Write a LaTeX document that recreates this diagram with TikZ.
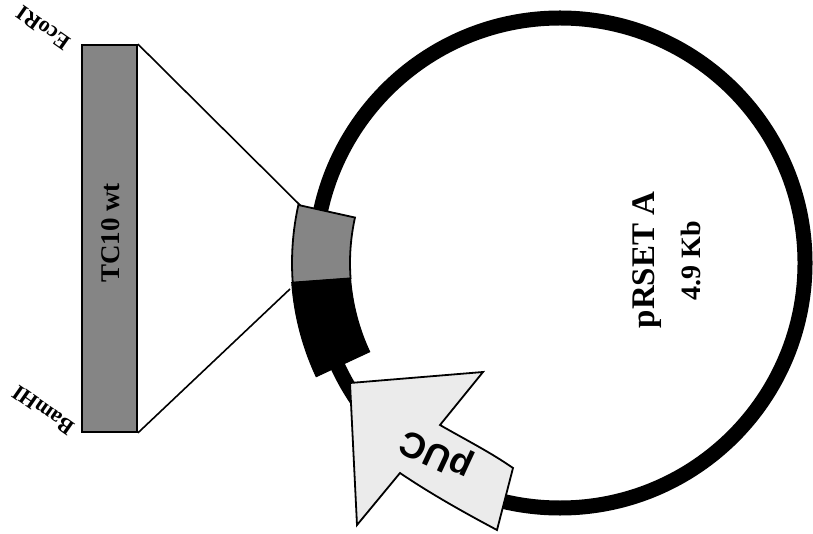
\documentclass[tikz,border=0pt]{standalone}
\usepackage{fontspec}
\setmainfont{Liberation Serif}
\newfontfamily\pucfont{Liberation Sans}
\usetikzlibrary{calc}
\definecolor{insertgray}{gray}{0.52}
\definecolor{pucgray}{gray}{0.92}
\begin{document}
\begin{tikzpicture}[x=1pt,y=1pt,
  lab/.style={font=\bfseries, inner sep=0pt},
  conn/.style={line width=1.6pt},
  outl/.style={draw=black, line width=1.8pt, line join=miter}]
\useasboundingbox (0,0) rectangle (813,-534);
\coordinate (C) at (560,-263);
% plasmid ring
\draw[line width=15pt] (C) circle (245pt);
% inserted gene segment (grey) on ring
\filldraw[fill=insertgray, outl]
  ($(C)+(167.5:268pt)$) arc[start angle=167.5, end angle=184.2, radius=268pt]
  -- ($(C)+(184.2:210pt)$) arc[start angle=184.2, end angle=167.5, radius=210pt] -- cycle;
% black segment
\filldraw[fill=black, draw=black, line width=1pt]
  ($(C)+(184.2:269pt)$) arc[start angle=184.2, end angle=205, radius=269pt]
  -- ($(C)+(205:210pt)$) arc[start angle=205, end angle=184.2, radius=210pt] -- cycle;
\coordinate (gtop) at ($(C)+(167.5:266pt)$);
\coordinate (gbot) at (290,-289);
% TC10 wt bar
\node[outl, fill=insertgray, minimum width=55pt, minimum height=387pt, inner sep=0pt]
  (bar) at (109.5,-238.5) {};
\node[lab, rotate=90, font=\bfseries\fontsize{27}{30}\selectfont] (tc) at (111,-233) {TC10 wt};
% connectors
\draw[conn] (bar.north east) -- (gtop);
\draw[conn] (bar.south east) -- (gbot);
% site labels
\node[lab, rotate=145, font=\bfseries\fontsize{22}{26}\selectfont] (eco) at (43,-28) {EcoRI};
\node[lab, rotate=145, font=\bfseries\fontsize{22}{26}\selectfont] (bam) at (43,-410) {BamHI};
% pUC arrow
\filldraw[fill=pucgray, outl]
  (350,-383) -- (483,-372) -- (440,-425)
  .. controls (466,-440) and (490,-452) .. (513,-468)
  -- (497,-530)
  .. controls (465,-513) and (431,-494) .. (400,-473)
  -- (357,-525) -- cycle;
\node[inner sep=0pt, rotate=155, font=\pucfont\bfseries\fontsize{36}{40}\selectfont] (puc) at (437,-453) {pUC};
% plasmid name
\node[lab, rotate=90, font=\bfseries\fontsize{33}{36}\selectfont] (name) at (647,-260) {pRSET A};
\node[lab, rotate=90, font=\bfseries\fontsize{28}{32}\selectfont] (size) at (691,-261) {4.9 Kb};
\end{tikzpicture}
\end{document}
